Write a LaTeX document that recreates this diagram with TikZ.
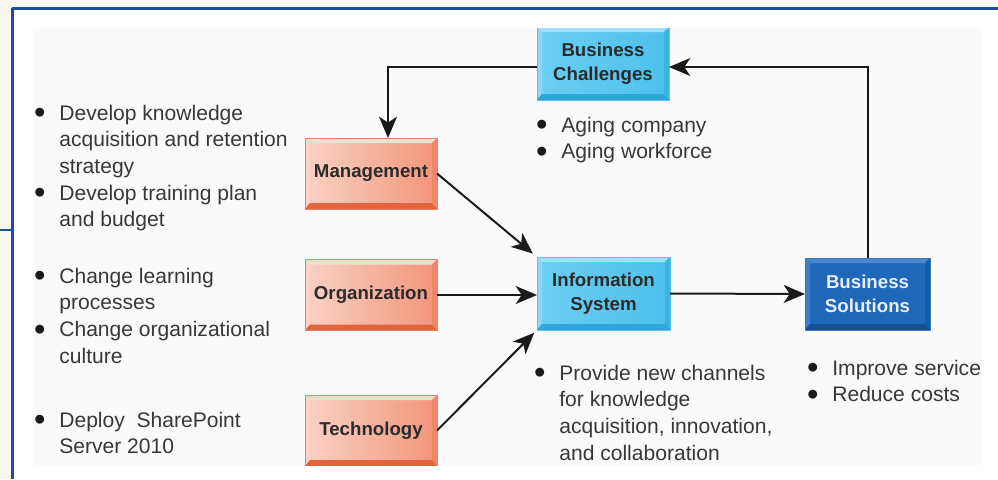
\documentclass[tikz,border=0pt]{standalone}
\usepackage{fontspec}
\usepackage{graphicx}
\setmainfont{Liberation Sans}
\usetikzlibrary{arrows.meta,calc}
\definecolor{cream}{HTML}{F9F5EF}
\definecolor{framec}{HTML}{1D4F9E}
\definecolor{panelc}{HTML}{FAFAFA}
\definecolor{bodyc}{HTML}{383838}
\definecolor{labelc}{HTML}{2B2B2B}
\definecolor{arrowc}{HTML}{1A1A1A}
\definecolor{salA}{HTML}{F9D2C3}
\definecolor{salB}{HTML}{F1957B}
\definecolor{salTop}{HTML}{FBDCD0}
\definecolor{salLeft}{HTML}{FAD5C7}
\definecolor{salRight}{HTML}{EE8669}
\definecolor{salBot}{HTML}{E4633F}
\definecolor{salLine}{HTML}{E88466}
\definecolor{lbA}{HTML}{6DCEF2}
\definecolor{lbB}{HTML}{4DC0EB}
\definecolor{lbTop}{HTML}{A3E0F7}
\definecolor{lbLeft}{HTML}{8BD7F4}
\definecolor{lbRight}{HTML}{3BB2E2}
\definecolor{lbBot}{HTML}{2EA6DA}
\definecolor{lbLine}{HTML}{5BC4EC}
\definecolor{dbIn}{HTML}{2067B9}
\definecolor{dbTop}{HTML}{4C88D0}
\definecolor{dbLeft}{HTML}{3F7DC8}
\definecolor{dbRight}{HTML}{1B59A7}
\definecolor{dbBot}{HTML}{174E96}
\definecolor{dbLine}{HTML}{3A78C4}
\definecolor{dbText}{HTML}{E8EEF8}
\newcommand\bul[1]{\par\noindent\hangindent=19pt\hangafter=1\makebox[19pt][l]{\color{arrowc}\raisebox{-0.35ex}{\scalebox{1.55}{\textbullet}}}#1}
\newcommand\blst[1]{\parbox[t]{220pt}{\raggedright\fontsize{15.8}{20}\selectfont #1}}
\newcommand\bevel[6]{%
  \fill[#2] (#1.north west) -- (#1.north east) -- ($(#1.north east)+(-5,5)$) -- ($(#1.north west)+(5,5)$) -- cycle;
  \fill[#3] (#1.north west) -- ($(#1.north west)+(5,5)$) -- ($(#1.south west)+(5,-6)$) -- (#1.south west) -- cycle;
  \fill[#4] (#1.north east) -- ($(#1.north east)+(-5,5)$) -- ($(#1.south east)+(-5,-6)$) -- (#1.south east) -- cycle;
  \fill[#5] (#1.south west) -- (#1.south east) -- ($(#1.south east)+(-5,-6)$) -- ($(#1.south west)+(5,-6)$) -- cycle;
  \draw[#6, line width=0.6pt] (#1.north west) rectangle (#1.south east);
}
\begin{document}
\begin{tikzpicture}[x=0.75pt,y=-0.75pt,
  box/.style={rectangle, minimum width=99pt, minimum height=53.25pt, inner sep=0pt, outer sep=0pt,
    align=center, font=\fontsize{14}{18}\selectfont\bfseries, text=labelc},
  salmon/.style={box, left color=salA, right color=salB},
  lblue/.style={box, left color=lbA, right color=lbB},
  dblue/.style={box, fill=dbIn, text=dbText},
  blist/.style={anchor=base west, inner sep=0pt, outer sep=0pt, text=bodyc},
  arr/.style={-{Stealth[length=16pt,width=13.5pt,inset=4.5pt]}, line width=1.5pt, draw=arrowc}]
\useasboundingbox (0,0) rectangle (998,479);
% frame
\fill[white] (0,0) rectangle (998,479);
\fill[cream] (0,0) rectangle (12,479);
\fill[cream!50] (12,0) rectangle (998,7);
\fill[panelc] (33,28) rectangle (982,465);
\draw[framec, line width=2.25pt] (11.5,8.5) -- (998,8.5);
\draw[framec, line width=1.8pt] (12.5,7.5) -- (12.5,479);
\draw[framec, line width=1.5pt] (0,230) -- (12.5,230);
\begin{scope}
\clip (33,28) rectangle (982,465);
% boxes
\node[lblue, minimum height=54.75pt] (bc) at (603,63.5) {Business\\Challenges};
\bevel{bc}{lbTop}{lbLeft}{lbRight}{lbBot}{lbLine}
\node[salmon] (mgmt) at (371,173.5) {Management};
\bevel{mgmt}{salTop}{salLeft}{salRight}{salBot}{salLine}
\node[salmon] (org) at (371,295) {Organization};
\bevel{org}{salTop}{salLeft}{salRight}{salBot}{salLine}
\node[salmon] (tech) at (371,430.5) {Technology};
\bevel{tech}{salTop}{salLeft}{salRight}{salBot}{salLine}
\node[lblue, minimum width=99.75pt, minimum height=54.75pt] (is) at (603.5,293.5) {Information\\System};
\bevel{is}{lbTop}{lbLeft}{lbRight}{lbBot}{lbLine}
\node[dblue, minimum width=93.75pt, minimum height=54pt] (bs) at (867.5,294) {Business\\Solutions};
\bevel{bs}{dbTop}{dbLeft}{dbRight}{dbBot}{dbLine}
% arrows
\draw[arr] ($(bc.west)+(0,3.5)$) -| ($(mgmt.north)+(17,0)$);
\draw[arr] (bs.north) |- ($(bc.east)+(0,3.5)$);
\draw[arr, shorten >=4pt] (mgmt.east) -- (is.north west);
\draw[arr] (org.east) -- (org.east -| is.west);
\draw[arr, shorten >=3pt] (tech.east) -- (is.south west);
\draw[arr] (is.east) -- (bs.west);
% text lists
\node[blist] (t1) at (34,120) {\blst{\bul{Develop knowledge\newline acquisition and retention\newline strategy}\bul{Develop training plan\newline and budget}}};
\node[blist] (t2) at (34,283) {\blst{\bul{Change learning\newline processes}\bul{Change organizational\newline culture}}};
\node[blist] (t3) at (34,427) {\blst{\bul{Deploy\ \ SharePoint\newline Server 2010}}};
\node[blist] (t4) at (536,132) {\blst{\bul{Aging company}\bul{Aging workforce}}};
\node[blist] (t5) at (534,380) {\blst{\bul{Provide new channels\newline for knowledge\newline acquisition, innovation,\newline and collaboration}}};
\node[blist] (t6) at (807,375) {\blst{\bul{Improve service}\bul{Reduce costs}}};
\end{scope}
\end{tikzpicture}
\end{document}
